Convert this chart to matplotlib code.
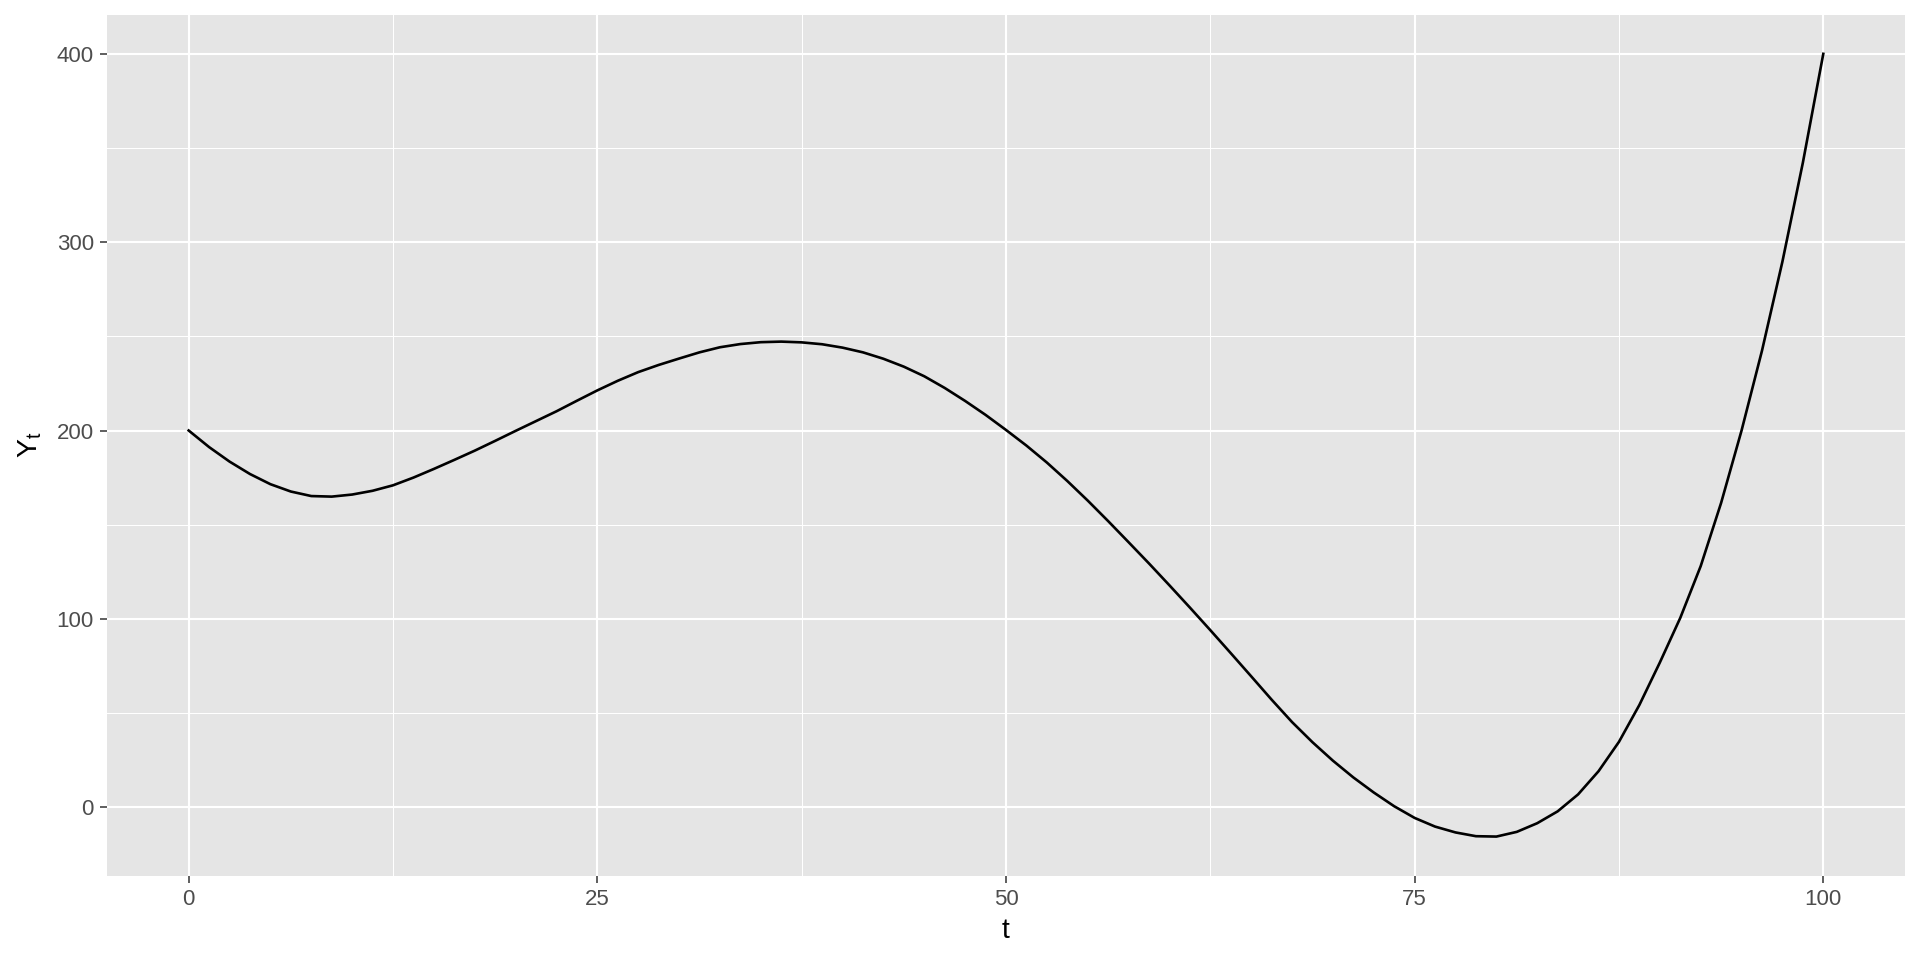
import matplotlib
matplotlib.use("Agg")
import matplotlib.pyplot as plt
from matplotlib.ticker import MultipleLocator

# values (t every 1.25)
t = [0, 1.25, 2.5, 3.75, 5, 6.25, 7.5, 8.75, 10, 11.25, 12.5, 13.75, 15,
     16.25, 17.5, 18.75, 20, 21.25, 22.5, 23.75, 25, 26.25, 27.5, 28.75, 30,
     31.25, 32.5, 33.75, 35, 36.25, 37.5, 38.75, 40, 41.25, 42.5, 43.75, 45,
     46.25, 47.5, 48.75, 50, 51.25, 52.5, 53.75, 55, 56.25, 57.5, 58.75, 60,
     61.25, 62.5, 63.75, 65, 66.25, 67.5, 68.75, 70, 71.25, 72.5, 73.75, 75,
     76.25, 77.5, 78.75, 80, 81.25, 82.5, 83.75, 85, 86.25, 87.5, 88.75, 90,
     91.25, 92.5, 93.75, 95, 96.25, 97.5, 98.75, 100]
y = [200, 191.2, 183.5, 176.9, 171.5, 167.6, 165.2, 164.9, 166.0, 168.0,
     170.9, 175.0, 179.6, 184.4, 189.3, 194.5, 199.8, 205.0, 210.2, 215.8,
     221.3, 226.4, 231.0, 234.8, 238.2, 241.5, 244.2, 245.9, 246.9, 247.2,
     246.8, 245.8, 244.0, 241.5, 238.1, 233.9, 228.8, 222.6, 215.7, 208.3,
     200.3, 192.0, 183.0, 173.2, 162.8, 151.9, 140.7, 129.4, 117.8, 106.0,
     94.0, 81.8, 69.5, 57.1, 45.2, 34.5, 24.7, 15.8, 7.8, 0.5,
     -5.7, -10.3, -13.4, -15.4, -15.6, -13.1, -8.5, -2.2, 6.8, 19.1,
     34.7, 54.3, 76.8, 100.5, 128.0, 161.6, 200.0, 242.4, 289.7, 342.2,
     400.0]

x_ticks = [0, 25, 50, 75, 100]
y_ticks = [0, 100, 200, 300, 400]

plt.rcParams['font.family'] = ['Liberation Sans', 'DejaVu Sans']
plt.rcParams['mathtext.fontset'] = 'custom'
plt.rcParams['mathtext.rm'] = 'Liberation Sans'
plt.rcParams['mathtext.it'] = 'Liberation Sans'
plt.rcParams['mathtext.default'] = 'regular'

fig = plt.figure(figsize=(19.2, 9.6), dpi=100)
ax = fig.add_axes([0.0557, 0.0878, 0.9365, 0.8969])
ax.set_facecolor('#E5E5E5')

ax.plot(t, y, color='black', lw=1.9, zorder=3, solid_joinstyle='round')

# ggplot-like expansion of 5 %
ymin, ymax = min(y), max(y)
ax.set_xlim(-5, 105)
ax.set_ylim(ymin - 0.05 * (ymax - ymin), ymax + 0.05 * (ymax - ymin))

ax.set_xticks(x_ticks)
ax.set_yticks(y_ticks)
ax.xaxis.set_minor_locator(MultipleLocator(12.5))
ax.yaxis.set_minor_locator(MultipleLocator(50))
ax.grid(which='major', color='white', lw=1.5)
ax.grid(which='minor', color='white', lw=0.75)
ax.set_axisbelow(True)

for s in ax.spines.values():
    s.set_visible(False)

ax.tick_params(which='major', length=5, width=1.1, color='#333333',
               labelcolor='#4D4D4D', labelsize=16, pad=4.5)
ax.tick_params(which='minor', length=0)

ax.set_xlabel('t', fontsize=20.5, labelpad=6)
ax.set_ylabel('Y$_t$', fontsize=20.5, labelpad=9)

fig.savefig('out.png', dpi=100)
